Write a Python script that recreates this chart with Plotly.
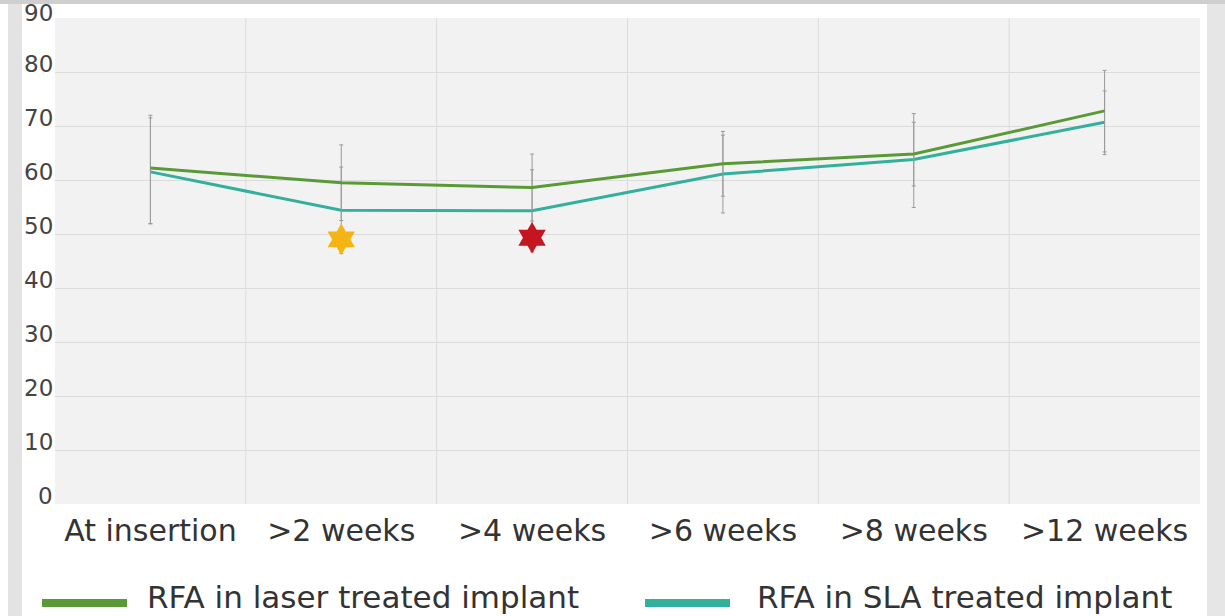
import plotly.graph_objects as go

categories = ["At insertion", ">2 weeks", ">4 weeks", ">6 weeks", ">8 weeks", ">12 weeks"]
laser_name = "RFA in laser treated implant"
sla_name = "RFA in SLA treated implant"
laser_values = [62.2, 59.5, 58.6, 63.0, 64.8, 72.8]
laser_err_plus = [9.8, 7.0, 6.2, 6.0, 7.5, 7.5]
laser_err_minus = [10.3, 7.0, 6.2, 6.0, 5.9, 7.6]
sla_values = [61.5, 54.4, 54.3, 61.1, 63.8, 70.7]
sla_err_plus = [10.0, 8.0, 7.6, 7.2, 6.9, 5.8]
sla_err_minus = [9.6, 8.0, 7.6, 7.2, 8.9, 6.0]
star_categories = [">2 weeks", ">4 weeks"]
star_values = [49.0, 49.3]
star_colors = ["#f4b414", "#c3161f"]
y_ticks = [0, 10, 20, 30, 40, 50, 60, 70, 80, 90]

GREEN = "#5a9a36"
TEAL = "#33b09c"
FONT = "DejaVu Sans"
xpos = list(range(len(categories)))

fig = go.Figure()
fig.add_trace(go.Scatter(
    x=xpos, y=sla_values, mode="lines", name=sla_name,
    line=dict(color=TEAL, width=3),
    error_y=dict(type="data", symmetric=False, array=sla_err_plus, arrayminus=sla_err_minus,
                 color="#9a9a9a", thickness=1, width=2),
))
fig.add_trace(go.Scatter(
    x=xpos, y=laser_values, mode="lines", name=laser_name,
    line=dict(color=GREEN, width=3),
    error_y=dict(type="data", symmetric=False, array=laser_err_plus, arrayminus=laser_err_minus,
                 color="#9a9a9a", thickness=1, width=2),
))
fig.add_trace(go.Scatter(
    x=[categories.index(c) for c in star_categories], y=star_values, mode="markers",
    marker=dict(symbol="hexagram", size=24, color=star_colors, line=dict(width=0)),
    showlegend=False,
))

px2x = lambda px: (px - 55) / 1145
px2y = lambda py: (504 - py) / 486

shapes = []
for i in range(len(categories) - 1):
    shapes.append(dict(type="line", xref="x", yref="y", x0=i + 0.5, x1=i + 0.5, y0=0, y1=90,
                       line=dict(color="#dcdcdc", width=1), layer="below"))
shapes.append(dict(type="rect", xref="paper", yref="paper", x0=px2x(8), x1=px2x(22), y0=px2y(620), y1=px2y(-2),
                   fillcolor="#e3e3e3", line=dict(width=0), layer="below"))
shapes.append(dict(type="rect", xref="paper", yref="paper", x0=px2x(1207), x1=px2x(1230), y0=px2y(620), y1=px2y(-2),
                   fillcolor="#e6e6e6", line=dict(width=0), layer="below"))
shapes.append(dict(type="rect", xref="paper", yref="paper", x0=px2x(-5), x1=px2x(1230), y0=px2y(4), y1=px2y(-2),
                   fillcolor="#cfcfcf", line=dict(width=0), layer="below"))
shapes.append(dict(type="line", xref="paper", yref="paper", x0=px2x(42), x1=px2x(127),
                   y0=px2y(603), y1=px2y(603), line=dict(color=GREEN, width=8)))
shapes.append(dict(type="line", xref="paper", yref="paper", x0=px2x(645), x1=px2x(730),
                   y0=px2y(603), y1=px2y(603), line=dict(color=TEAL, width=8)))

annotations = [
    dict(xref="paper", yref="paper", x=px2x(145), y=px2y(597), text=laser_name, showarrow=False,
         xanchor="left", yanchor="middle", font=dict(family=FONT, size=31, color="#333333")),
    dict(xref="paper", yref="paper", x=px2x(755), y=px2y(597), text=sla_name, showarrow=False,
         xanchor="left", yanchor="middle", font=dict(family=FONT, size=31, color="#333333")),
]
for v in y_ticks:
    annotations.append(dict(xref="paper", yref="y", x=px2x(55), y=v, text=str(v), showarrow=False,
                            xanchor="right", yanchor="middle", yshift=5 if v == y_ticks[-1] else 8,
                            font=dict(family=FONT, size=23, color="#444444")))

fig.update_layout(
    width=1225, height=616,
    margin=dict(l=55, r=25, t=18, b=112),
    paper_bgcolor="white", plot_bgcolor="#f2f2f2",
    showlegend=False,
    shapes=shapes, annotations=annotations,
    xaxis=dict(range=[-0.5, 5.5], tickmode="array", tickvals=xpos, ticktext=categories,
               showgrid=False, zeroline=False, showline=False, ticks="",
               ticklabelstandoff=6,
               tickfont=dict(family=FONT, size=30, color="#333333")),
    yaxis=dict(range=[0, 90], tickmode="array", tickvals=y_ticks, showgrid=True,
               gridcolor="#dcdcdc", gridwidth=1, zeroline=False, showline=False, ticks="",
               showticklabels=False),
)

fig.write_html("out.html")
